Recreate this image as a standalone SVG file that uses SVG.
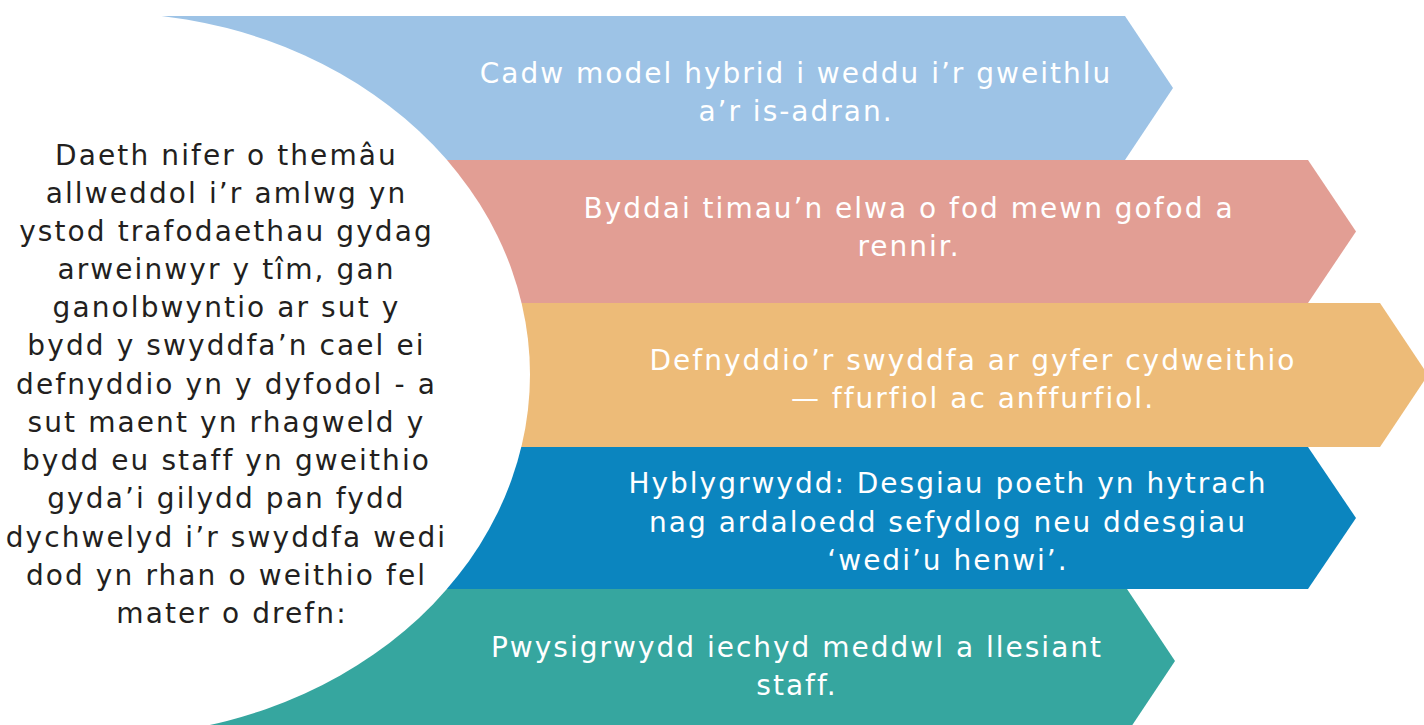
<svg xmlns="http://www.w3.org/2000/svg" width="1424" height="725" viewBox="0 0 1424 725">
<style>
.lbl{font-family:"DejaVu Sans","Verdana",sans-serif;font-size:28px;letter-spacing:2px;fill:#ffffff;text-anchor:middle}
.intro{font-family:"DejaVu Sans","Verdana",sans-serif;font-size:28px;letter-spacing:2.1px;fill:#231f20;text-anchor:middle}
</style>
<rect width="1424" height="725" fill="#ffffff"/>
<g id="band1"><polygon points="150,16 1125,16 1173,88 1125,160 150,160" fill="#9dc3e6"/></g>
<g id="band2"><polygon points="150,160 1308,160 1356,231.5 1308,303 150,303" fill="#e29e94"/></g>
<g id="band3"><polygon points="150,303 1380,303 1428,375 1380,447 150,447" fill="#edbb78"/></g>
<g id="band4"><polygon points="150,447 1308,447 1356,518 1308,589 150,589" fill="#0b85bf"/></g>
<g id="band5"><polygon points="150,589 1127,589 1175,661 1127,733 150,733" fill="#36a69f"/></g>
<g id="intro">
<ellipse cx="103" cy="374.5" rx="427" ry="362" fill="#ffffff"/>
<text class="intro">
<tspan x="232" y="165">Daeth nifer o themâu</tspan>
<tspan x="232" y="203">allweddol i’r amlwg yn</tspan>
<tspan x="232" y="241">ystod trafodaethau gydag</tspan>
<tspan x="232" y="279">arweinwyr y tîm, gan</tspan>
<tspan x="232" y="317">ganolbwyntio ar sut y</tspan>
<tspan x="232" y="355">bydd y swyddfa’n cael ei</tspan>
<tspan x="232" y="394">defnyddio yn y dyfodol - a</tspan>
<tspan x="232" y="432">sut maent yn rhagweld y</tspan>
<tspan x="232" y="470">bydd eu staff yn gweithio</tspan>
<tspan x="232" y="508">gyda’i gilydd pan fydd</tspan>
<tspan x="232" y="547">dychwelyd i’r swyddfa wedi</tspan>
<tspan x="232" y="585">dod yn rhan o weithio fel</tspan>
<tspan x="232" y="623">mater o drefn:</tspan>
</text>
</g>
<g id="label1"><text class="lbl"><tspan x="796" y="83">Cadw model hybrid i weddu i’r gweithlu</tspan><tspan x="796" y="121">a’r is-adran.</tspan></text></g>
<g id="label2"><text class="lbl"><tspan x="909" y="218">Byddai timau’n elwa o fod mewn gofod a</tspan><tspan x="909" y="256">rennir.</tspan></text></g>
<g id="label3"><text class="lbl"><tspan x="973" y="370">Defnyddio’r swyddfa ar gyfer cydweithio</tspan><tspan x="973" y="408">— ffurfiol ac anffurfiol.</tspan></text></g>
<g id="label4"><text class="lbl"><tspan x="948" y="493">Hyblygrwydd: Desgiau poeth yn hytrach</tspan><tspan x="948" y="532">nag ardaloedd sefydlog neu ddesgiau</tspan><tspan x="948" y="570">‘wedi’u henwi’.</tspan></text></g>
<g id="label5"><text class="lbl"><tspan x="797" y="657">Pwysigrwydd iechyd meddwl a llesiant</tspan><tspan x="797" y="695">staff.</tspan></text></g>
<g id="connectors"/>
</svg>
